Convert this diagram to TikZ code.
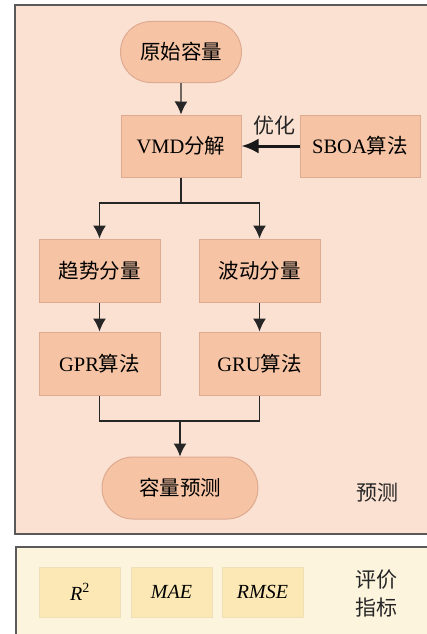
\documentclass[tikz,border=0pt]{standalone}
\usepackage{fontspec}
\setmainfont{Liberation Serif}
\newfontfamily\cjk{Noto Sans CJK SC}
\usetikzlibrary{arrows.meta,shapes.misc}
\definecolor{panelA}{HTML}{FBE1D1}
\definecolor{nodeA}{HTML}{F6C4A4}
\definecolor{nodeAline}{HTML}{DDAA92}
\definecolor{panelB}{HTML}{FCF4DD}
\definecolor{nodeB}{HTML}{FBE8B4}
\definecolor{nodeBline}{HTML}{F0E0B8}
\definecolor{frame}{HTML}{5A5A5A}
\tikzset{
  boxA/.style={draw=nodeAline, fill=nodeA, line width=1pt, minimum width=120pt, minimum height=62pt, font=\fontsize{20.5}{24}\selectfont, inner sep=0pt},
  stadium/.style={boxA, rounded rectangle},
  boxB/.style={draw=nodeBline, fill=nodeB, line width=1pt, minimum width=81pt, minimum height=50pt, font=\fontsize{20}{24}\selectfont\itshape, inner sep=0pt},
  conn/.style={line width=1.3pt, draw=black!85},
  arr/.style={conn, -{Latex[length=13pt,width=13pt]}},
  lbl/.style={font=\fontsize{21}{24}\selectfont\cjk, text=black!85, inner sep=0pt},
}
\begin{document}
\begin{tikzpicture}[x=1pt,y=-1pt]
\useasboundingbox (0,0) rectangle (427,634);
\clip (0,0) rectangle (427,634);
\fill[white] (0,0) rectangle (427,634);
\draw[frame, fill=panelA, line width=1.5pt] (15,5) rectangle (445,534);
\draw[frame, fill=panelB, line width=1.5pt] (16,547) rectangle (445,660);

\node[stadium, minimum width=121pt, minimum height=61pt] (raw) at (181,52) {\cjk 原始容量};
\node[boxA] (vmd) at (181,146) {VMD{\cjk 分解}};
\node[boxA] (sboa) at (360,146) {SBOA{\cjk 算法}};
\node[boxA, minimum width=121pt, minimum height=63pt] (trend) at (99.5,270.5) {\cjk 趋势分量};
\node[boxA, minimum width=121pt, minimum height=63pt] (wave) at (259.5,270.5) {\cjk 波动分量};
\node[boxA, minimum width=121pt, minimum height=63pt] (gpr) at (99.5,363.5) {GPR{\cjk 算法}};
\node[boxA, minimum width=121pt, minimum height=63pt] (gru) at (259.5,363.5) {GRU{\cjk 算法}};
\node[stadium, minimum width=156pt, minimum height=62pt] (pred) at (180,488) {\cjk 容量预测};

\node[lbl] (opt) at (274,126) {优化};
\node[lbl] (predlbl) at (377,493) {预测};

\coordinate (split) at (181,203);
\coordinate (join) at (180,421);

\draw[arr] (raw) -- (vmd);
\draw[line width=3pt, draw=black!90, -{Latex[length=17pt,width=15pt]}] (sboa) -- (vmd);
\draw[conn] (vmd) -- (split);
\draw[arr] (split) -| (trend);
\draw[arr] (split) -| (wave);
\draw[arr] (trend) -- (gpr);
\draw[arr] (wave) -- (gru);
\draw[conn] (gpr.south) |- (join);
\draw[conn] (gru.south) |- (join);
\draw[arr] (join) -- (pred);

\node[boxB] (r2) at (80,592) {R\textsuperscript{\upshape 2}};
\node[boxB] (mae) at (171.5,592) {MAE};
\node[boxB] (rmse) at (262.5,592) {RMSE};
\node[lbl, align=center, font=\fontsize{21}{28}\selectfont\cjk] (eval) at (376,593) {评价\\指标};
\end{tikzpicture}
\end{document}
